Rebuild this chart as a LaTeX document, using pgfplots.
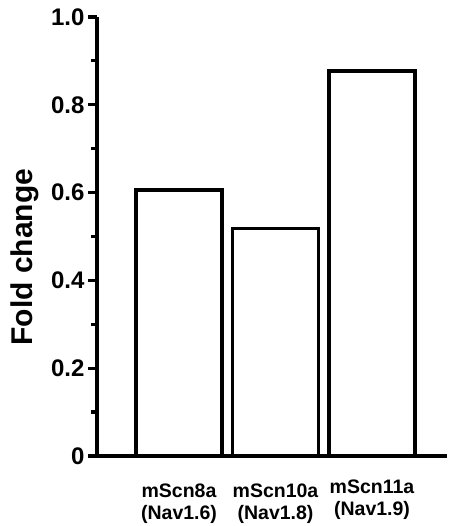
\documentclass[border=0pt]{standalone}
\usepackage{fontspec}
\setmainfont{Liberation Sans}
\usepackage{pgfplots}
\pgfplotsset{compat=1.18}
\begin{document}
\begin{tikzpicture}
  \begin{axis}[
    name=ax,
    scale only axis, width=350pt, height=439pt,
    xmin=-0.85, xmax=2.777, ymin=0, ymax=1.0,
    axis x line*=bottom, axis y line*=left,
    axis line style={line width=3.2pt, -},
    every outer x axis line/.append style={-},
    every outer y axis line/.append style={-},
    clip=false,
    ytick={0,0.2,0.4,0.6,0.8,1.0},
    yticklabels={0,0.2,0.4,0.6,0.8,1.0},
    minor ytick={0.1,0.3,0.5,0.7,0.9},
    tick align=outside,
    major tick length=9pt, minor tick length=6pt,
    ytick style={line width=3.2pt, black},
    yticklabel style={font=\fontsize{24}{28}\selectfont\bfseries},
    xtick={0,1},
    xticklabels={{mScn8a\\(Nav1.6)},{mScn10a\\(Nav1.8)}},
    extra x ticks={2},
    extra x tick labels={{mScn11a\\(Nav1.9)}},
    extra x tick style={xticklabel style={yshift=4pt}},
    xtick style={draw=none},
    xticklabel style={font=\fontsize{19.5}{22.5}\selectfont\bfseries, align=center, yshift=-15pt},
    ylabel={\bfseries Fold change},
    ylabel style={font=\fontsize{30}{34}\selectfont, at={(axis description cs:-0.206,0.453)}, anchor=center, rotate=0},
    /pgf/number format/assume math mode=true,
  ]
    \addplot[ybar, bar width=86pt, fill=white, draw=black, line width=3.2pt]
      coordinates {(0,0.606) (1,0.519) (2,0.877)};
  \end{axis}
  \pgfresetboundingbox
  \path[use as bounding box] ([xshift=-97pt,yshift=-70pt]ax.south west) rectangle ([xshift=19pt,yshift=17pt]ax.north east);
\end{tikzpicture}
\end{document}
